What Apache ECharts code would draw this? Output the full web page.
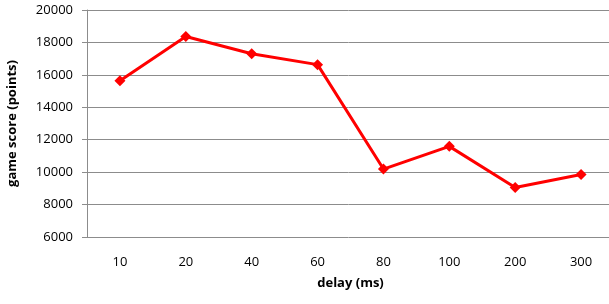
<!DOCTYPE html>
<html>
<head>
    <meta charset="utf-8">
    <title></title>
    <script src="https://cdn.jsdelivr.net/npm/echarts@6/dist/echarts.min.js"></script>
    <style>
        html, body { margin: 0; padding: 0; background: #fff; }
    </style>
</head>
<body>
    <div id="main" style="width: 609px;height:304px;"></div>
    <script type="text/javascript">
        const delays = ['10', '20', '40', '60', '80', '100', '200', '300'];
        const scores = [15630, 18370, 17300, 16630, 10190, 11590, 9050, 9850];

        const myChart = echarts.init(document.getElementById('main'));
        const font = 'Open Sans';
        const options = {
            animation: false,
            grid: { left: 87, width: 527, top: 10, bottom: 67, outerBoundsMode: 'none' },
            xAxis: {
                type: 'category',
                data: delays,
                name: 'delay (ms)',
                nameLocation: 'middle',
                nameGap: 40,
                nameTextStyle: { fontFamily: font, fontWeight: 'bold', fontSize: 13, color: '#000' },
                axisLine: { show: false },
                axisTick: { show: false },
                axisLabel: { fontFamily: font, fontSize: 13, color: '#000', margin: 19 }
            },
            yAxis: {
                type: 'value',
                min: 6000,
                max: 20000,
                interval: 2000,
                name: 'game score (points)',
                nameLocation: 'middle',
                nameGap: 68,
                nameTextStyle: { fontFamily: font, fontWeight: 'bold', fontSize: 13, color: '#000' },
                axisLine: { show: true, lineStyle: { color: '#8c8c8c' } },
                axisTick: { show: true, length: 5, lineStyle: { color: '#8c8c8c' } },
                axisLabel: { fontFamily: font, fontSize: 13, color: '#000', margin: 14, formatter: v => String(v) },
                splitLine: { lineStyle: { color: '#8c8c8c', width: 1 } }
            },
            series: [{
                data: scores,
                type: 'line',
                symbol: 'diamond',
                symbolSize: 11,
                lineStyle: { color: '#ff0000', width: 3 },
                itemStyle: { color: '#ff0000' }
            }]
        };
        myChart.setOption(options);
    </script>
</body>
</html>
